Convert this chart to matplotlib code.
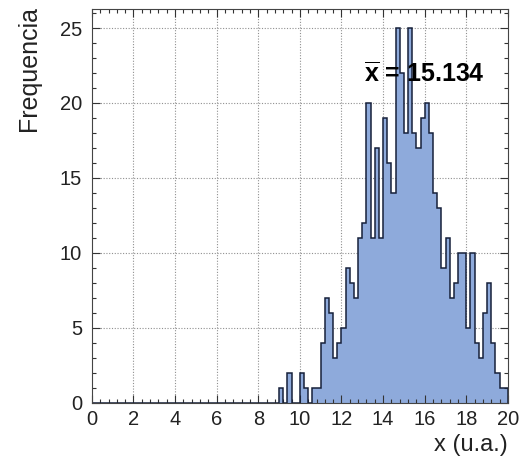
import matplotlib.pyplot as plt
import numpy as np
from matplotlib.ticker import MultipleLocator

# histogram: 100 bins between 0 and 20 (width 0.2), counts
x_lo, x_hi, n_bins = 0, 20, 100
counts = [0]*45 + [
    1, 0, 2, 0, 0, 2, 1, 0, 1, 1,          # 9.0 - 10.8
    4, 7, 6, 3, 4, 5, 9, 8, 7, 11,         # 11.0 - 12.8
    12, 20, 11, 17, 11, 19, 16, 14, 25, 22,  # 13.0 - 14.8
    18, 25, 18, 17, 19, 20, 18, 14, 13, 9,   # 15.0 - 16.8
    11, 7, 8, 10, 10, 5, 10, 4, 3, 6,      # 17.0 - 18.8
    8, 4, 2, 1, 1,                         # 19.0 - 19.8
]
mean_label = '15.134'

edges = np.linspace(x_lo, x_hi, n_bins + 1)

plt.rcParams['font.family'] = ['Liberation Sans', 'DejaVu Sans']
plt.rcParams['mathtext.fontset'] = 'custom'
plt.rcParams['mathtext.bf'] = 'Liberation Sans:bold'
plt.rcParams['mathtext.rm'] = 'Liberation Sans'

fig = plt.figure(figsize=(5.22, 4.63), dpi=100)
ax = fig.add_axes([0.176, 0.130, 0.797, 0.850])

ymax = 26.25
ax.set_xlim(x_lo, x_hi)
ax.set_ylim(0, ymax)

# dotted grid under the histogram
for gx in np.arange(2, x_hi, 2):
    ax.axvline(gx, color='#909090', ls=(0, (1, 1.5)), lw=0.8, zorder=0.5)
for gy in np.arange(5, ymax, 5):
    ax.axhline(gy, color='#909090', ls=(0, (1, 1.5)), lw=0.8, zorder=0.5)

ax.stairs(counts, edges, fill=True, color='#8eaadb', zorder=1)
ax.stairs(counts, edges, color='#16203a', lw=1.1, baseline=0, zorder=2)

ax.text(13.1, 21.45, r'$\overline{\mathbf{x}}$ = ' + mean_label, fontsize=18,
        fontweight='bold', ha='left', va='baseline', color='black', zorder=3)

ax.xaxis.set_major_locator(MultipleLocator(2))
ax.xaxis.set_minor_locator(MultipleLocator(0.4))
ax.yaxis.set_major_locator(MultipleLocator(5))
ax.yaxis.set_minor_locator(MultipleLocator(1))
ax.tick_params(which='both', direction='in', top=True, right=True,
               color='#333333', labelsize=14.5, labelcolor='#222222')
ax.tick_params(which='major', length=5.5, width=0.8)
ax.tick_params(which='minor', length=2.8, width=0.8)
ax.tick_params(axis='x', pad=5)
ax.tick_params(axis='y', pad=7)
for s in ax.spines.values():
    s.set_color('#444444')
    s.set_linewidth(0.8)
    s.set_zorder(4)

fig.text(29/522, 1 - 6/463, 'Frequencia', rotation=90, ha='center', va='top',
         fontsize=18, color='#222222')
fig.text(508/522, 1 - 445/463, 'x (u.a.)', ha='right', va='center',
         fontsize=17, color='#222222')

fig.savefig('out.png', dpi=100)
